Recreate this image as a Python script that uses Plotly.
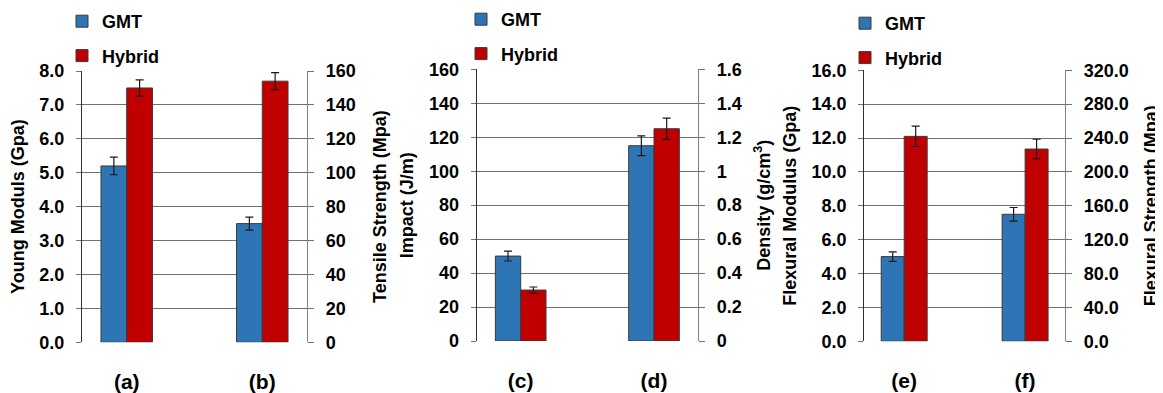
import plotly.graph_objects as go

# ---------------- data ----------------
categories = ["(a)", "(b)", "(c)", "(d)", "(e)", "(f)"]
series_names = ["GMT", "Hybrid"]
gmt_values = [5.2, 70, 50, 1.15, 5.0, 150]
gmt_errors = [0.26, 3.8, 2.9, 0.058, 0.28, 8.0]
hybrid_values = [7.5, 154, 30, 1.25, 12.1, 227]
hybrid_errors = [0.24, 5.0, 1.8, 0.063, 0.6, 11.6]

left_titles = ["Young Moduls (Gpa)", "Impact (J/m)", "Flexural Modulus (Gpa)"]
right_titles = ["Tensile Strength (Mpa)", "Density (g/cm<sup>3</sup>)", "Flexural Strength (Mpa)"]
left_max = [8, 160, 16]
left_dtick = [1, 20, 2]
left_fmt = [".1f", "", ".1f"]
right_max = [160, 1.6, 320]
right_dtick = [20, 0.2, 40]
right_fmt = ["", "", ".1f"]

# ---------------- style / layout ----------------
W, H = 1163, 393
OFF = 8  # page body margin offset of the rendered figure
FONT = "Liberation Sans, Arial, sans-serif"
colors = ["#2E75B6", "#C00000"]
# target positions in window pixels
panel_x = [(82, 307), (476.7, 698), (864.3, 1065)]
panel_y = [(71, 342.3), (69.3, 341), (70.3, 341.3)]
legend_pos = [(62, 3), (461, 1), (845, 5)]
right_standoff = [18, 16, 16]
bar_w = 0.19


def px_x(v):
    return (v - OFF) / W


def px_y(v):
    return 1 - (v - OFF) / H


fig = go.Figure()

for k, cat in enumerate(categories):
    p = k // 2
    side = k % 2
    xa = "x" if p == 0 else f"x{p + 1}"
    yn = 2 * p + side + 1
    ya = "y" if yn == 1 else f"y{yn}"
    leg = "legend" if p == 0 else f"legend{p + 1}"
    for s, (vals, errs) in enumerate([(gmt_values, gmt_errors), (hybrid_values, hybrid_errors)]):
        fig.add_trace(go.Bar(
            x=[side], y=[vals[k]],
            xaxis=xa, yaxis=ya,
            name=series_names[s],
            legend=leg,
            legendgroup=f"{p}-{s}",
            showlegend=(side == 0),
            width=bar_w,
            offset=-bar_w if s == 0 else 0,
            marker=dict(color=colors[s], line=dict(color="#3a3a3a", width=1)),
            error_y=dict(type="data", array=[errs[k]], visible=True,
                         color="#1a1a1a", thickness=1.2, width=4),
        ))

layout = dict(
    width=W, height=H, autosize=False,
    margin=dict(l=0, r=0, t=0, b=0, autoexpand=False),
    paper_bgcolor="white", plot_bgcolor="white",
    barmode="overlay",
    font=dict(family=FONT, color="black"),
)

for p in range(3):
    x0, x1 = panel_x[p]
    yt, yb = panel_y[p]
    xd = [px_x(x0), px_x(x1)]
    yd = [px_y(yb), px_y(yt)]
    xname = "xaxis" if p == 0 else f"xaxis{p + 1}"
    xref = "x" if p == 0 else f"x{p + 1}"
    ln = 2 * p + 1
    rn = 2 * p + 2
    lname = "yaxis" if ln == 1 else f"yaxis{ln}"
    rname = f"yaxis{rn}"
    lref = "y" if ln == 1 else f"y{ln}"
    layout[xname] = dict(
        domain=xd, anchor=lref, range=[-0.33, 1.33], automargin=False,
        tickvals=[0, 1], ticktext=categories[2 * p:2 * p + 2],
        showgrid=False, zeroline=False, showline=False, ticks="",
        tickfont=dict(family=FONT, size=21, color="black", weight="bold"),
        ticklabelstandoff=25,
    )
    layout[lname] = dict(
        domain=yd, anchor=xref, range=[0, left_max[p]], dtick=left_dtick[p],
        tickformat=left_fmt[p], automargin=False,
        showgrid=True, gridcolor="#707070", gridwidth=1.4,
        zeroline=False, showline=True, linecolor="#303030", linewidth=1.3,
        ticks="outside", ticklen=5, tickcolor="#707070", tickwidth=1.4,
        tickfont=dict(family=FONT, size=18, color="black", weight="bold"),
        ticklabelstandoff=8,
        title=dict(text=left_titles[p], font=dict(family=FONT, size=18, color="black", weight="bold"), standoff=10),
    )
    layout[rname] = dict(
        anchor=xref, overlaying=lref, side="right", automargin=False,
        range=[0, right_max[p]], dtick=right_dtick[p], tickformat=right_fmt[p],
        showgrid=False, zeroline=False, showline=True, linecolor="#808080", linewidth=1.3,
        ticks="outside", ticklen=6, tickcolor="#707070", tickwidth=1.4,
        tickfont=dict(family=FONT, size=18, color="black", weight="bold"),
        ticklabelstandoff=8,
        title=dict(text=right_titles[p], font=dict(family=FONT, size=18, color="black", weight="bold"),
                   standoff=right_standoff[p]),
    )
    lgname = "legend" if p == 0 else f"legend{p + 1}"
    lx, ly = legend_pos[p]
    layout[lgname] = dict(
        x=px_x(lx), y=px_y(ly), xanchor="left", yanchor="top",
        bgcolor="rgba(0,0,0,0)", borderwidth=0,
        font=dict(family=FONT, size=18, color="black", weight="bold"),
        traceorder="grouped", tracegroupgap=8,
    )

fig.update_layout(**layout)
fig.write_html("out.html")
